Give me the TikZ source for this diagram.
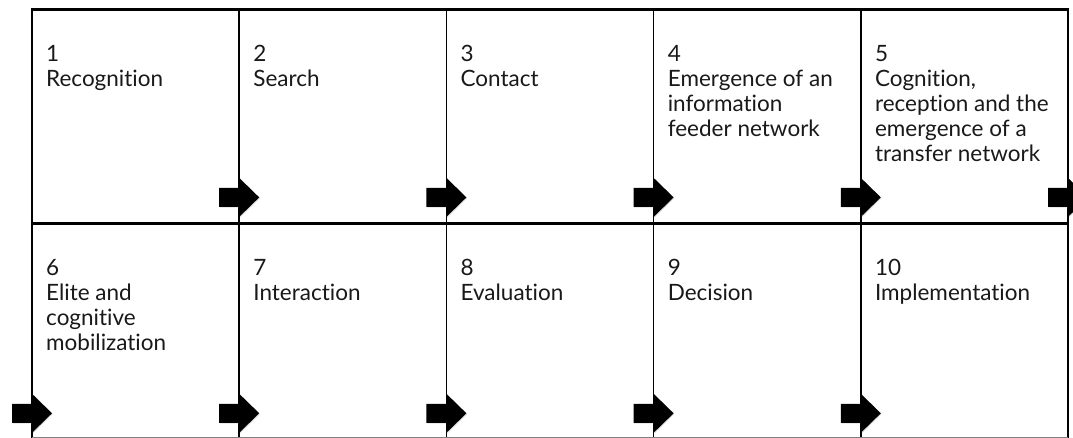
\documentclass[tikz,border=0pt]{standalone}
\usepackage{fontspec}
\setmainfont{Lato}[Ligatures={NoCommon,NoContextual}]
\usetikzlibrary{calc,shadows}
\begin{document}
\begin{tikzpicture}[x=1pt,y=1pt,
  cell/.style={rectangle, inner sep=0pt, minimum width=206.8pt, minimum height=213.5pt, anchor=north west},
  txt/.style={anchor=north west, inner sep=0pt, align=left, text=black!90, font=\fontsize{22.5}{25}\selectfont},
  heavyrule/.style={line width=3pt},
  lightrule/.style={line width=1.6pt},
  baserule/.style={line width=1.2pt, draw=gray},
  blockarrow/.style={fill=black, drop shadow={opacity=0.25, shadow xshift=0.8pt, shadow yshift=-0.8pt}},
  blockarr/.pic={\fill[blockarrow] (-20,-9.5) -- (0,-9.5) -- (0,-19.5) -- (20,0) -- (0,19.5) -- (0,9.5) -- (-20,9.5) -- cycle;}]
\useasboundingbox (0,0) rectangle (1073,438);
% cells
\node[cell] (c1) at (32,428) {};
\node[cell] (c2) at (c1.north east) {};
\node[cell] (c3) at (c2.north east) {};
\node[cell] (c4) at (c3.north east) {};
\node[cell] (c5) at (c4.north east) {};
\node[cell] (c6) at (c1.south west) {};
\node[cell] (c7) at (c6.north east) {};
\node[cell] (c8) at (c7.north east) {};
\node[cell] (c9) at (c8.north east) {};
\node[cell] (c10) at (c9.north east) {};
% texts
\node[txt] (t1) at ($(c1.north west)+(14,-35)$) {1\\Recognition};
\node[txt] (t2) at ($(c2.north west)+(14,-35)$) {2\\Search};
\node[txt] (t3) at ($(c3.north west)+(14,-35)$) {3\\Contact};
\node[txt] (t4) at ($(c4.north west)+(14,-35)$) {4\\Emergence of an\\information\\feeder network};
\node[txt] (t5) at ($(c5.north west)+(14,-35)$) {5\\Cognition,\\reception and the\\emergence of a\\transfer network};
\node[txt] (t6) at ($(c6.north west)+(14,-35)$) {6\\Elite and\\cognitive\\mobilization};
\node[txt] (t7) at ($(c7.north west)+(14,-35)$) {7\\Interaction};
\node[txt] (t8) at ($(c8.north west)+(14,-35)$) {8\\Evaluation};
\node[txt] (t9) at ($(c9.north west)+(14,-35)$) {9\\Decision};
\node[txt] (t10) at ($(c10.north west)+(14,-35)$) {10\\Implementation};
% rules
\draw[heavyrule] ($(c1.north west)+(-1.5,0)$) -- ($(c5.north east)+(1,0)$);
\draw[heavyrule] ($(c6.north west)+(-1.5,0)$) -- ($(c10.north east)+(1,0)$);
\draw[lightrule] (c1.north west) -- (c6.south west);
\draw[lightrule] (c2.north west) -- (c7.south west);
\draw[lightrule] (c3.north west) -- (c8.south west);
\draw[lightrule] (c4.north west) -- (c9.south west);
\draw[lightrule] (c5.north west) -- (c10.south west);
\draw[lightrule] (c5.north east) -- (c10.south east);
\draw[baserule] (c6.south west) -- (c10.south east);
% arrows
\pic at ($(c1.south east)+(0,26.5)$) {blockarr};
\pic at ($(c2.south east)+(0,26.5)$) {blockarr};
\pic at ($(c3.south east)+(0,26.5)$) {blockarr};
\pic at ($(c4.south east)+(0,26.5)$) {blockarr};
\pic at ($(c5.south east)+(0,26.5)$) {blockarr};
\pic at ($(c6.south west)+(0,24.5)$) {blockarr};
\pic at ($(c7.south west)+(0,24.5)$) {blockarr};
\pic at ($(c8.south west)+(0,24.5)$) {blockarr};
\pic at ($(c9.south west)+(0,24.5)$) {blockarr};
\pic at ($(c10.south west)+(0,24.5)$) {blockarr};
\end{tikzpicture}
\end{document}
